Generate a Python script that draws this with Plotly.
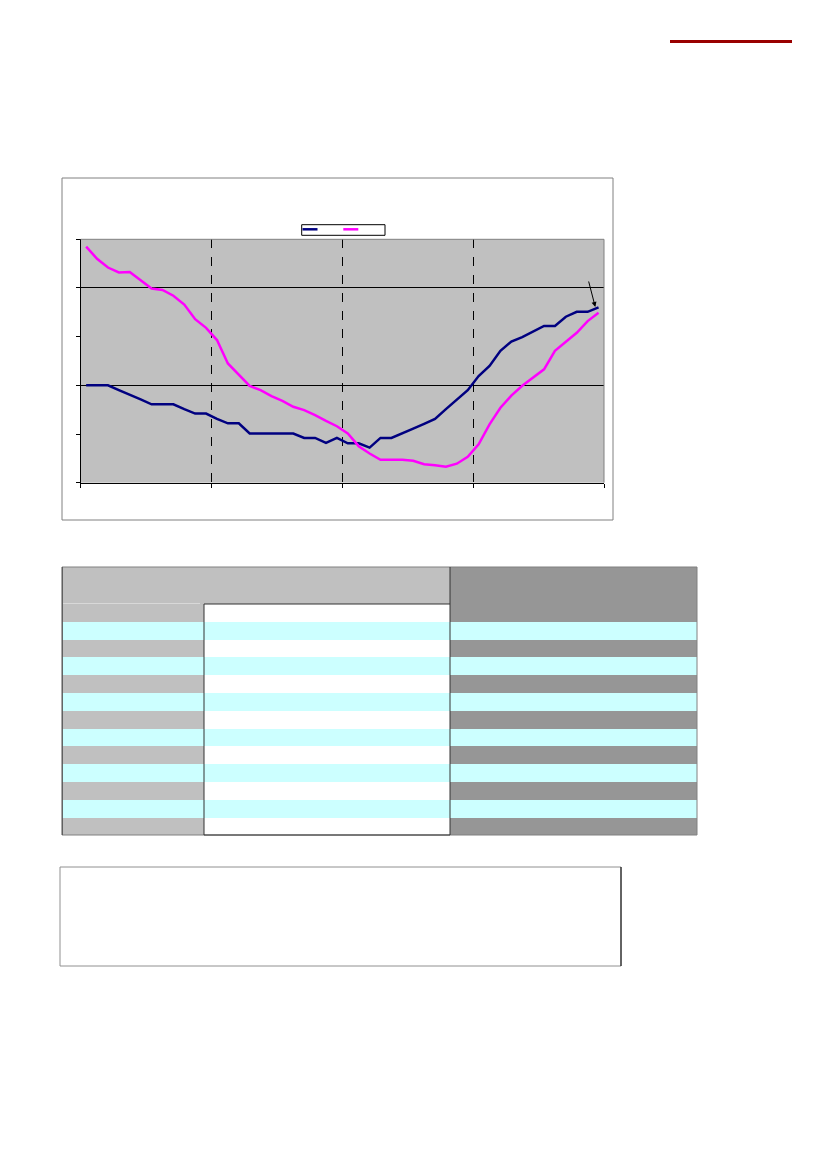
import plotly.graph_objects as go

W, H = 827, 1169

# monthly series, 4 years (48 points)
months = list(range(1, 49))
series_a = [2.00, 2.00, 2.00, 1.90, 1.81, 1.71, 1.61, 1.61, 1.61, 1.51, 1.42, 1.42,
            1.31, 1.22, 1.22, 1.01, 1.01, 1.01, 1.01, 1.01, 0.92, 0.92, 0.82, 0.92,
            0.81, 0.81, 0.72, 0.92, 0.92, 1.01, 1.11, 1.21, 1.31, 1.51, 1.70, 1.90,
            2.19, 2.40, 2.71, 2.90, 2.99, 3.10, 3.22, 3.22, 3.41, 3.51, 3.51, 3.60]
series_b = [4.85, 4.60, 4.42, 4.32, 4.33, 4.16, 3.99, 3.96, 3.84, 3.66, 3.36, 3.18,
            2.93, 2.45, 2.23, 1.99, 1.90, 1.78, 1.68, 1.56, 1.49, 1.39, 1.27, 1.16,
            1.01, 0.75, 0.60, 0.47, 0.47, 0.47, 0.45, 0.38, 0.36, 0.33, 0.39, 0.53,
            0.79, 1.20, 1.54, 1.79, 1.99, 2.16, 2.33, 2.71, 2.89, 3.08, 3.32, 3.49]
year_edges = [0.5, 12.5, 24.5, 36.5, 48.5]

# table below the chart (cells are empty in the source)
table_header = [""] * 7
table_body = [[""] * 13 for _ in range(7)]
col_widths = [142, 61, 101, 84, 79, 85, 83]


def px(x):
    return x / W


def py(y):
    return 1 - y / H


GRAY = "#c0c0c0"
DARK = "#969696"
CYAN = "#ccffff"
NAVY = "#000080"
MAGENTA = "#ff00ff"

fig = go.Figure()
fig.add_trace(go.Scatter(x=months, y=series_a, mode="lines",
                         line=dict(color=NAVY, width=2.5)))
fig.add_trace(go.Scatter(x=months, y=series_b, mode="lines",
                         line=dict(color=MAGENTA, width=2.5)))

# row shading: grey-type rows alternate with cyan rows
def col_fill(base):
    return [base if r % 2 == 0 else CYAN for r in range(13)]

body_fill = [col_fill(GRAY)] + [col_fill("white")] * 3 + [col_fill(DARK)] * 3
fig.add_trace(go.Table(
    domain=dict(x=[px(62), px(697)], y=[py(835), py(567)]),
    columnwidth=col_widths,
    header=dict(values=table_header, height=37,
                fill_color=[GRAY] * 4 + [DARK] * 3,
                line=dict(width=0, color="rgba(0,0,0,0)"),
                font=dict(size=6)),
    cells=dict(values=table_body, height=17.8, fill_color=body_fill,
               line=dict(width=0, color="rgba(0,0,0,0)"),
               font=dict(size=6)),
))

fig.update_xaxes(domain=[px(80.7), px(604)], range=[0.5, 48.5],
                 tickvals=year_edges, showticklabels=False,
                 ticks="outside", ticklen=4, tickcolor="black",
                 showgrid=True, gridcolor="black", griddash="dash", gridwidth=1,
                 showline=True, linecolor="black", linewidth=1, zeroline=False)
fig.update_yaxes(domain=[py(482.7), py(239.3)], range=[0, 5], dtick=2,
                 showticklabels=False, ticks="outside", ticklen=4, tickcolor="black",
                 minor=dict(dtick=1, ticks="outside", ticklen=4, tickcolor="black",
                            showgrid=False),
                 showgrid=True, gridcolor="black", gridwidth=1,
                 showline=True, linecolor="black", linewidth=1, zeroline=False)

shapes = [
    # red rule at top right
    dict(type="line", x0=px(670), x1=px(792), y0=py(41.5), y1=py(41.5),
         line=dict(color="#990000", width=3)),
    # chart frame
    dict(type="rect", x0=px(62), x1=px(613), y0=py(520), y1=py(178),
         line=dict(color="#808080", width=1)),
    # plot area top / right border
    dict(type="line", x0=px(80.7), x1=px(604), y0=py(239.3), y1=py(239.3),
         line=dict(color="#808080", width=1)),
    dict(type="line", x0=px(604), x1=px(604), y0=py(239.3), y1=py(482.7),
         line=dict(color="#808080", width=1)),
    # legend box with line keys
    dict(type="rect", x0=px(301.7), x1=px(385), y0=py(235.3), y1=py(224.7),
         line=dict(color="black", width=1), fillcolor="white"),
    dict(type="line", x0=px(302.5), x1=px(317.5), y0=py(229.3), y1=py(229.3),
         line=dict(color=NAVY, width=2.5)),
    dict(type="line", x0=px(343.3), x1=px(358.3), y0=py(229.3), y1=py(229.3),
         line=dict(color=MAGENTA, width=2.5)),
    # table borders
    dict(type="rect", x0=px(62), x1=px(697), y0=py(835), y1=py(567),
         line=dict(color="#808080", width=1)),
    dict(type="line", x0=px(62.3), x1=px(62.3), y0=py(835), y1=py(567),
         line=dict(color="#505050", width=1)),
    dict(type="line", x0=px(63), x1=px(200), y0=py(603.5), y1=py(603.5),
         line=dict(color="#d8d8d8", width=1)),
    dict(type="rect", x0=px(204), x1=px(450), y0=py(835), y1=py(604),
         line=dict(color="#333333", width=1)),
    dict(type="line", x0=px(450), x1=px(450), y0=py(604), y1=py(567),
         line=dict(color="#333333", width=1)),
    # note box
    dict(type="rect", x0=px(60), x1=px(621), y0=py(966), y1=py(867),
         line=dict(color="#909090", width=1)),
    dict(type="line", x0=px(621), x1=px(621), y0=py(966), y1=py(867),
         line=dict(color="black", width=1)),
]
for s in shapes:
    s.update(xref="paper", yref="paper")

fig.add_annotation(x=47.7, y=3.61, xref="x", yref="y", text="",
                   showarrow=True, arrowhead=2, arrowsize=1, arrowwidth=1,
                   arrowcolor="black", ax=-7, ay=-27)

fig.update_layout(
    width=W, height=H, autosize=False,
    margin=dict(l=0, r=0, t=0, b=0),
    paper_bgcolor="white", plot_bgcolor=GRAY,
    shapes=shapes,
    showlegend=False,
)

fig.write_html("out.html", config={"displayModeBar": False},
               post_script="document.body.style.margin='0';")
